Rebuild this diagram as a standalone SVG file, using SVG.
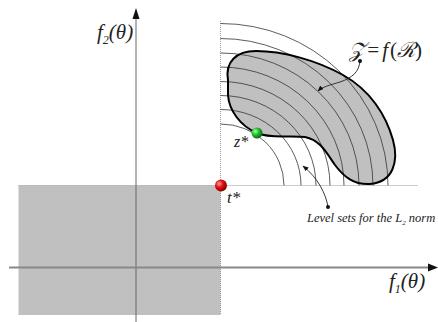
<svg xmlns="http://www.w3.org/2000/svg" width="438" height="322" viewBox="0 0 438 322">
<style>
.lbl{font-family:'Liberation Serif','Times New Roman',serif;font-style:italic;fill:#222}
.dot{stroke:#999;stroke-width:1;stroke-dasharray:1 1;fill:none}
.arc{stroke:#333;stroke-width:0.8;fill:none}
.ptr{stroke:#222;stroke-width:0.9;fill:none}
</style>
<defs>
<radialGradient id="red" cx="0.35" cy="0.35" r="0.7">
<stop offset="0" stop-color="#ff9a9a"/><stop offset="0.45" stop-color="#e01010"/><stop offset="1" stop-color="#800000"/>
</radialGradient>
<radialGradient id="green" cx="0.35" cy="0.35" r="0.7">
<stop offset="0" stop-color="#aaffaa"/><stop offset="0.45" stop-color="#22c030"/><stop offset="1" stop-color="#0a6010"/>
</radialGradient>
<marker id="ah" viewBox="0 0 10 10" refX="9" refY="5" markerWidth="6" markerHeight="6" orient="auto" markerUnits="userSpaceOnUse">
<path d="M0,1 L10,5 L0,9 Z" fill="#111"/>
</marker>
</defs>
<rect width="438" height="322" fill="#fff"/>
<g id="dominated-region">
<rect x="18.5" y="185.5" width="202" height="129.5" fill="#c0c0c0"/>
</g>
<g id="guides">
<line class="dot" x1="18.5" y1="185.5" x2="418" y2="185.5"/>
<line class="dot" x1="220.5" y1="21" x2="220.5" y2="315"/>
</g>
<g id="axes">
<line x1="136" y1="18" x2="136" y2="322" stroke="#666" stroke-width="1"/>
<path d="M136,8 L132.5,19 L139.5,19 Z" fill="#111"/>
<line x1="9" y1="267.5" x2="429" y2="267.5" stroke="#888" stroke-width="2"/>
<path d="M438,267.5 L428,263.5 L428,271.5 Z" fill="#111"/>
</g>
<g id="Z-set">
<path d="M228,80 C225,62 236,51 256,51 C282,51 316,60 343,75 C370,90 386,115 393,140 C399,162 393,182 370,184 C354,185 344,177 335,165 C326,152 320,140 305,137 C290,135 270,139 257,133 C240,126 229,110 228,95 Z" fill="#c0c0c0"/>
</g>
<g id="level-sets">
<path class="arc" d="M220.5,124 A63.5 61.5 0 0 1 284,185.5"/>
<path class="arc" d="M220.5,109.5 A80.5 76 0 0 1 301,185.5"/>
<path class="arc" d="M220.5,95.5 A95.5 90 0 0 1 316,185.5"/>
<path class="arc" d="M220.5,81.5 A109.5 104 0 0 1 330,185.5"/>
<path class="arc" d="M220.5,67 A123.5 118.5 0 0 1 344,185.5"/>
<path class="arc" d="M220.5,53 A138.5 132.5 0 0 1 359,185.5"/>
<path class="arc" d="M220.5,38.5 A152.5 147 0 0 1 373,185.5"/>
<path class="arc" d="M220.5,23.5 A167.5 162 0 0 1 388,185.5"/>
</g>
<g id="Z-outline">
<path d="M228,80 C225,62 236,51 256,51 C282,51 316,60 343,75 C370,90 386,115 393,140 C399,162 393,182 370,184 C354,185 344,177 335,165 C326,152 320,140 305,137 C290,135 270,139 257,133 C240,126 229,110 228,95 Z" fill="none" stroke="#000" stroke-width="2"/>
</g>
<g id="t-star">
<circle cx="221" cy="185.5" r="6" fill="url(#red)"/>
<text class="lbl" x="227" y="203" font-size="17">t*</text>
</g>
<g id="z-star">
<circle cx="257" cy="133" r="5.5" fill="url(#green)"/>
<text class="lbl" x="234" y="147" font-size="16">z*</text>
</g>
<g id="connectors">
<path class="ptr" d="M360,61 C359,72 352,78 340,82 C330,85 322,87 318,91" marker-end="url(#ah)"/>
<circle cx="360" cy="61" r="2" fill="#111"/>
<path class="ptr" d="M328,207 C326,194 318,178 303,166" marker-end="url(#ah)"/>
<circle cx="328" cy="207" r="2" fill="#111"/>
</g>
<g id="labels">
<text class="lbl" x="349" y="57" font-size="21">𝒵<tspan dx="1">=</tspan><tspan dx="2">f</tspan><tspan font-style="normal" dx="2">(</tspan>ℛ<tspan font-style="normal">)</tspan></text>
<text class="lbl" x="307" y="222" font-size="12.5">Level sets for the L<tspan font-size="7" dy="3">2</tspan><tspan dy="-3"> norm</tspan></text>
<text class="lbl" x="97" y="39" font-size="21">f<tspan font-size="12" dy="5">2</tspan><tspan dy="-5">(θ)</tspan></text>
<text class="lbl" x="389" y="288" font-size="21">f<tspan font-size="12" dy="5">1</tspan><tspan dy="-5">(θ)</tspan></text>
</g>
</svg>
